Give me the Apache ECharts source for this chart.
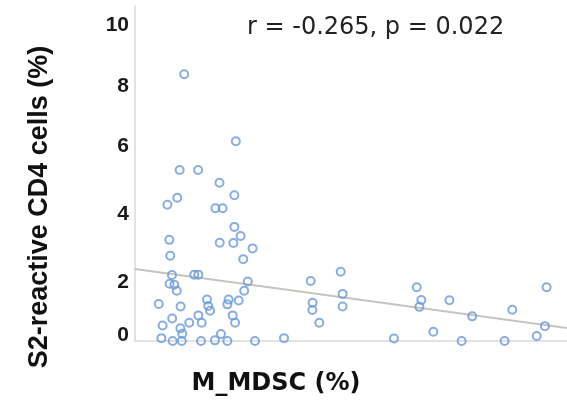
<!DOCTYPE html>
<html>
<head>
<meta charset="utf-8">
<script src="https://cdn.jsdelivr.net/npm/echarts@6/dist/echarts.min.js"></script>
<style>
html,body{margin:0;padding:0;background:#fff;}
#chart{width:567px;height:412px;}
</style>
</head>
<body>
<div id="chart"></div>
<script>
// M_MDSC (%) values (x) — axis has no tick labels in the reference
var mdscValues = [
  2.05, 4.20, 1.86, 2.63, 3.52, 4.14, 1.76, 1.35, 3.35, 3.65,
  1.43, 4.14, 4.40, 3.53, 4.10, 4.90, 1.47, 4.51, 1.54, 2.47,
  2.64, 1.44, 1.64, 1.74, 4.70, 4.55, 0.99, 1.90, 3.00, 3.05,
  3.13, 3.90, 3.85, 4.32, 1.55, 1.15, 2.26, 2.64, 2.78, 1.89,
  1.97, 4.07, 4.17, 1.10, 1.57, 1.95, 2.75, 3.58, 3.33, 3.85,
  5.00, 6.21, 7.32, 8.57, 7.40, 7.39, 8.65, 8.65, 7.68, 10.79,
  11.74, 11.93, 11.85, 13.10, 12.43, 13.61, 14.05, 15.40, 15.72, 16.74,
  17.08, 17.15
];
// S2-reactive CD4 cells (%) values (y)
var cd4Values = [
  8.44, 6.32, 5.41, 5.41, 5.01, 4.61, 4.53, 4.31, 4.20, 4.20,
  3.20, 3.61, 3.32, 3.11, 3.10, 2.93, 2.70, 2.59, 2.09, 2.10,
  2.10, 1.81, 1.78, 1.59, 1.88, 1.59, 1.17, 1.09, 1.31, 1.11,
  0.96, 1.31, 1.16, 1.28, 0.71, 0.49, 0.58, 0.81, 0.58, 0.40,
  0.23, 0.81, 0.58, 0.09, 0.00, 0.00, 0.00, 0.22, 0.02, 0.00,
  0.00, 0.09, 1.90, 2.19, 1.21, 0.98, 1.49, 1.09, 0.58, 0.08,
  1.70, 1.30, 1.08, 1.29, 0.29, 0.00, 0.78, 0.00, 0.99, 0.16,
  0.47, 1.70
];
// linear trend line endpoints
var trendX = [0, 18];
var trendY = [2.28, 0.41];
var yTickLabels = [0, 2, 4, 6, 8, 10];
var annotation = 'r = -0.265, p = 0.022';
var xTitle = 'M_MDSC (%)';
var yTitle = 'S2-reactive CD4 cells (%)';

var scatterData = mdscValues.map(function (x, i) { return [x, cd4Values[i]]; });
var trendData = trendX.map(function (x, i) { return [x, trendY[i]]; });

var labelFont = {fontFamily: 'Liberation Sans, Arial, sans-serif', fontWeight: 'bold', fontSize: 21, color: '#1a1a1a'};
function labelStyle(pad) { return Object.assign({padding: pad}, labelFont); }

var chart = echarts.init(document.getElementById('chart'), null, {renderer: 'canvas'});
chart.setOption({
  animation: false,
  backgroundColor: '#ffffff',
  grid: {left: 135, right: 0, top: 6, bottom: 71, containLabel: false},
  xAxis: {
    type: 'value', min: 0, max: 18,
    axisLine: {show: true, onZero: false, lineStyle: {color: '#d9d9d9', width: 1.5}},
    axisTick: {show: false}, axisLabel: {show: false}, splitLine: {show: false}
  },
  yAxis: {
    type: 'value', min: 0, max: 10.6, interval: 2,
    axisLine: {show: true, lineStyle: {color: '#d9d9d9', width: 1.5}},
    axisTick: {show: false}, splitLine: {show: false},
    axisLabel: Object.assign({
      show: true, margin: 6,
      formatter: function (v) {
        if (yTickLabels.indexOf(v) < 0) return '';
        return '{t' + v + '|' + v + '}';
      },
      rich: {
        t0: labelStyle([0, 0, 12, 0]),
        t2: labelStyle([9, 0, 0, 0]),
        t4: labelStyle([0, 0, 0, 0]),
        t6: labelStyle([0, 0, 10, 0]),
        t8: labelStyle([0, 0, 4, 0]),
        t10: labelStyle([0, 0, 0, 0])
      }
    }, labelFont)
  },
  graphic: [
    {type: 'text', x: 247, y: 28, style: {text: annotation, fontFamily: 'DejaVu Sans', fontSize: 24, fill: '#222222', align: 'left', verticalAlign: 'middle'}},
    {type: 'text', x: 276, y: 384, style: {text: xTitle, fontFamily: 'DejaVu Sans', fontWeight: 'bold', fontSize: 24, fill: '#111111', align: 'center', verticalAlign: 'middle'}},
    {type: 'text', x: 40, y: 207, rotation: Math.PI / 2, style: {text: yTitle, fontFamily: 'Liberation Sans', fontWeight: 'bold', fontSize: 27, fill: '#111111', align: 'center', verticalAlign: 'middle'}}
  ],
  series: [
    {
      type: 'line', data: trendData, symbol: 'none', silent: true, z: 1,
      lineStyle: {color: '#c7c4bf', width: 2}
    },
    {
      type: 'scatter', data: scatterData, symbol: 'circle', symbolSize: 8, z: 2,
      itemStyle: {color: 'rgba(255,255,255,0)', borderColor: '#6a98d8', borderWidth: 2}
    }
  ]
});
</script>
</body>
</html>
